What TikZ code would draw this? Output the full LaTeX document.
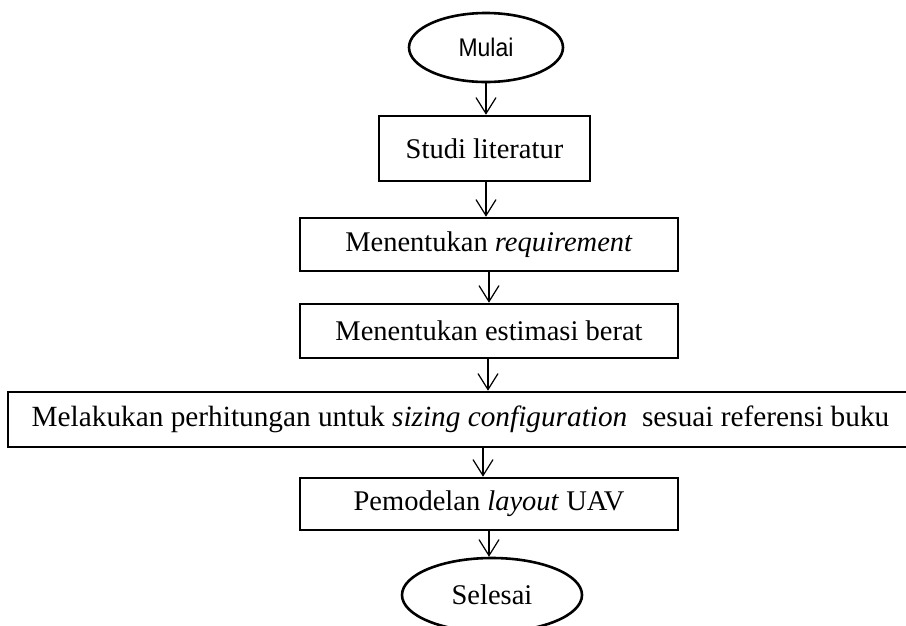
\documentclass[tikz,border=0pt]{standalone}
\usepackage{fontspec}
\usepackage{graphicx}
\setmainfont{Liberation Serif}
\newfontfamily\sansf{Liberation Sans}
\usetikzlibrary{arrows.meta,shapes.geometric}
\tikzset{
  procbox/.style={draw, line width=2.6pt, rectangle, inner sep=0pt, font=\fontsize{28.5}{34}\selectfont},
  termin/.style={draw, line width=2.6pt, ellipse, inner sep=0pt},
  arr/.style={line width=1.2pt, -{Straight Barb[length=16pt,width=20pt,line width=1.2pt]}}
}
\begin{document}
\begin{tikzpicture}[x=1pt,y=-1pt]
\useasboundingbox (0,0) rectangle (906,625);
\node[termin, minimum width=154pt, minimum height=69pt] (mulai) at (486,47.5) {\sansf\fontsize{25.5}{30}\selectfont\scalebox{0.9}[1]{Mulai}};
\node[procbox, minimum width=211pt, minimum height=65pt] (studi) at (484.5,148.5) {Studi literatur};
\node[procbox, minimum width=378pt, minimum height=53pt] (req) at (489,244.5) {Menentukan \textit{requirement}};
\node[procbox, minimum width=378pt, minimum height=54pt] (est) at (489,331) {Menentukan estimasi berat};
\node[procbox, minimum width=905pt, minimum height=55pt, font=\fontsize{29.3}{34}\selectfont] (hit) at (460.5,419.5) {Melakukan perhitungan untuk \textit{sizing configuration}\ \ sesuai referensi buku};
\node[procbox, minimum width=378pt, minimum height=52pt] (pem) at (489,504) {Pemodelan \textit{layout} UAV};
\node[termin, minimum width=180pt, minimum height=74pt, font=\fontsize{28.5}{34}\selectfont] (sel) at (492,595) {Selesai};
\draw[arr] (486,0 |- mulai.south) -- (486,0 |- studi.north);
\draw[arr] (486,0 |- studi.south) -- (486,0 |- req.north);
\draw[arr] (489,0 |- req.south) -- (489,0 |- est.north);
\draw[arr] (488,0 |- est.south) -- (488,0 |- hit.north);
\draw[arr] (483,0 |- hit.south) -- (483,0 |- pem.north);
\draw[arr] (489,0 |- pem.south) -- (489,0 |- sel.north);
\end{tikzpicture}
\end{document}
